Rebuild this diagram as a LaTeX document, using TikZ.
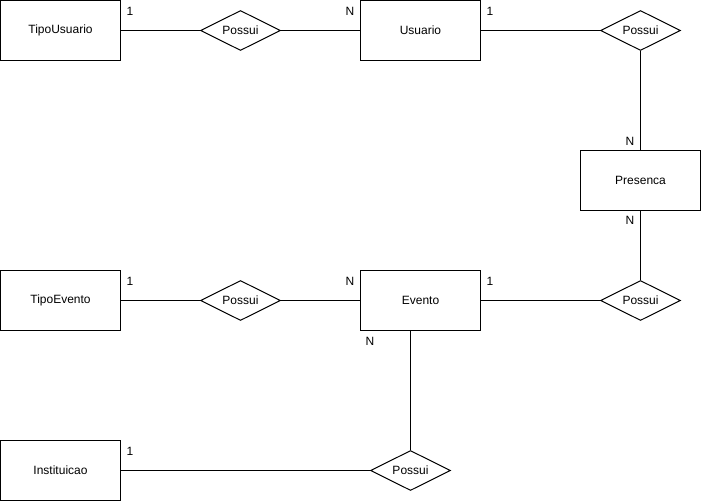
\documentclass[tikz,border=0pt]{standalone}
\usepackage{fontspec}
\setmainfont{Liberation Sans}
\usetikzlibrary{shapes.geometric}
\begin{document}
\begin{tikzpicture}[x=1pt,y=-1pt,
  every node/.style={font=\fontsize{12}{14}\selectfont},
  entity/.style={draw,line width=1pt,minimum width=120pt,minimum height=60pt,inner sep=0pt},
  rel/.style={draw,diamond,aspect=2,line width=1pt,minimum width=80pt,minimum height=40pt,inner sep=0pt},
  conn/.style={line width=1pt},
  card/.style={inner sep=0pt}]
\useasboundingbox (0,0) rectangle (701,501);
\node[entity] (tu) at (60.5,30.5) {TipoUsuario};
\node[entity] (us) at (420.5,30.5) {Usuario};
\node[entity] (pr) at (640.5,180.5) {Presenca};
\node[entity] (te) at (60.5,300.5) {TipoEvento};
\node[entity] (ev) at (420.5,300.5) {Evento};
\node[entity] (in) at (60.5,470.5) {Instituicao};
\node[rel] (r1) at (240.5,30.5) {Possui};
\node[rel] (r2) at (640.5,30.5) {Possui};
\node[rel] (r3) at (240.5,300.5) {Possui};
\node[rel] (r4) at (640.5,300.5) {Possui};
\node[rel] (r5) at (410.5,470.5) {Possui};
\draw[conn] (tu.east) -- (r1.west);
\draw[conn] (r1.east) -- (us.west);
\draw[conn] (us.east) -- (r2.west);
\draw[conn] (r2.south) -- (pr.north);
\draw[conn] (pr.south) -- (r4.north);
\draw[conn] (r4.west) -- (ev.east);
\draw[conn] (te.east) -- (r3.west);
\draw[conn] (r3.east) -- (ev.west);
\draw[conn] (ev.south -| r5.north) -- (r5.north);
\draw[conn] (r5.west) -- (in.east);
\node[card] (c1) at (130,11) {1};
\node[card] (c2) at (350,11) {N};
\node[card] (c3) at (490,11) {1};
\node[card] (c4) at (630,141) {N};
\node[card] (c5) at (630,220) {N};
\node[card] (c6) at (130,281) {1};
\node[card] (c7) at (350,281) {N};
\node[card] (c8) at (490,281) {1};
\node[card] (c9) at (370,341) {N};
\node[card] (c10) at (130,451) {1};
\end{tikzpicture}
\end{document}
